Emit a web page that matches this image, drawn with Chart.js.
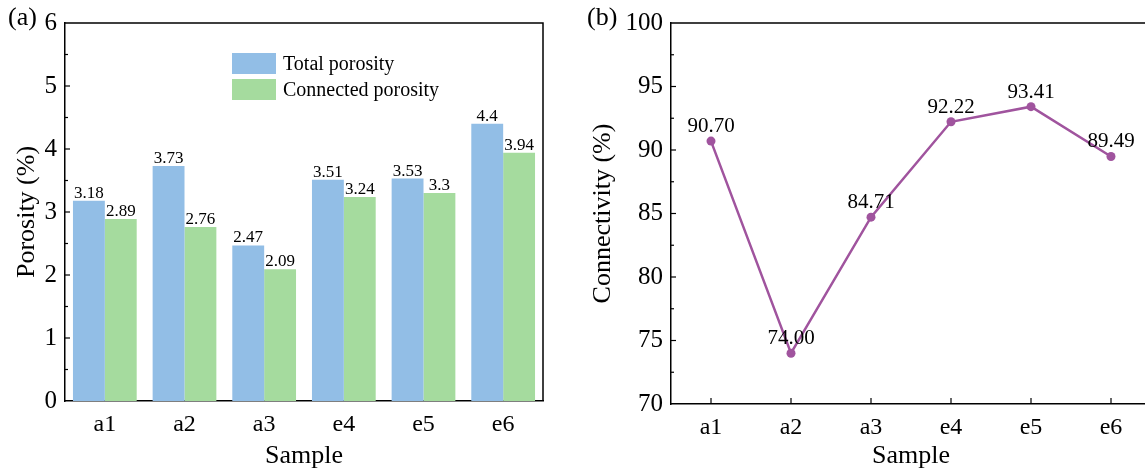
<!DOCTYPE html>
<html><head><meta charset="utf-8">
<script src="https://cdn.jsdelivr.net/npm/chart.js@4.4.1/dist/chart.umd.min.js"></script>
<style>
html,body{margin:0;padding:0;background:#fff;overflow:hidden;width:1145px;height:474px;position:relative;}
#ca{position:absolute;left:0;top:0;}
#cb{position:absolute;left:580px;top:0;}
</style></head><body>
<canvas id="ca" width="560" height="474"></canvas>
<canvas id="cb" width="600" height="474"></canvas>
<script>
const samples = ['a1','a2','a3','e4','e5','e6'];
const totalPorosity = [3.18, 3.73, 2.47, 3.51, 3.53, 4.4];
const connectedPorosity = [2.89, 2.76, 2.09, 3.24, 3.3, 3.94];
const connectivity = [90.70, 74.00, 84.71, 92.22, 93.41, 89.49];
const porosityTicks = [0, 1, 2, 3, 4, 5, 6];
const connectivityTicks = [70, 75, 80, 85, 90, 95, 100];
const seriesNames = ['Total porosity', 'Connected porosity'];

const FONT = "'Liberation Serif', 'Times New Roman', serif";
const BLUE = '#92BEE6';
const GREEN = '#A5DB9E';
const PURPLE = '#A0549E';

function drawFrame(chart) {
  const {ctx, chartArea: a} = chart;
  ctx.save();
  ctx.strokeStyle = '#000';
  ctx.lineWidth = 1.5;
  ctx.beginPath();
  ctx.moveTo(a.left, a.top);
  ctx.lineTo(a.right, a.top);
  ctx.lineTo(a.right, a.bottom);
  ctx.stroke();
  ctx.restore();
}
function innerYTicks(chart, ticks, majLen, minLen) {
  const {ctx, chartArea: a} = chart;
  const y = chart.scales.y;
  ctx.save();
  ctx.strokeStyle = '#000';
  ctx.lineWidth = 1.2;
  for (let i = 0; i < ticks.length; i++) {
    const v = ticks[i];
    if (i > 0 && i < ticks.length - 1) {
      const py = y.getPixelForValue(v);
      ctx.beginPath(); ctx.moveTo(a.left, py); ctx.lineTo(a.left + majLen, py); ctx.stroke();
    }
    if (i < ticks.length - 1) {
      const mv = (ticks[i] + ticks[i + 1]) / 2;
      const pm = y.getPixelForValue(mv);
      ctx.beginPath(); ctx.moveTo(a.left, pm); ctx.lineTo(a.left + minLen, pm); ctx.stroke();
    }
  }
  ctx.restore();
}

const pluginA = {
  id: 'extrasA',
  afterDraw(chart) {
    const {ctx} = chart;
    drawFrame(chart);
    innerYTicks(chart, porosityTicks, 5, 3);
    ctx.save();
    ctx.fillStyle = '#000';
    ctx.font = '17px ' + FONT;
    ctx.textAlign = 'center';
    ctx.textBaseline = 'alphabetic';
    chart.data.datasets.forEach((ds, di) => {
      chart.getDatasetMeta(di).data.forEach((bar, i) => {
        ctx.fillText(String(ds.data[i]), bar.x, bar.y - 3);
      });
    });
    const lx = 232, ly = [53, 79], bw = 44, bh = 21;
    [BLUE, GREEN].forEach((c, i) => {
      ctx.fillStyle = c;
      ctx.fillRect(lx, ly[i], bw, bh);
      ctx.fillStyle = '#000';
      ctx.font = '20px ' + FONT;
      ctx.textAlign = 'left';
      ctx.textBaseline = 'middle';
      ctx.fillText(seriesNames[i], lx + bw + 7, ly[i] + bh / 2 + 1);
    });
    ctx.font = '26px ' + FONT;
    ctx.textAlign = 'left';
    ctx.textBaseline = 'alphabetic';
    ctx.fillText('(a)', 8, 25);
    ctx.restore();
  }
};

const pluginB = {
  id: 'extrasB',
  afterDraw(chart) {
    const {ctx, chartArea: a} = chart;
    drawFrame(chart);
    innerYTicks(chart, connectivityTicks, 5, 3);
    const x = chart.scales.x;
    ctx.save();
    ctx.strokeStyle = '#000';
    ctx.lineWidth = 1.2;
    samples.forEach((s, i) => {
      const px = x.getPixelForValue(i);
      ctx.beginPath(); ctx.moveTo(px, a.bottom); ctx.lineTo(px, a.bottom - 6); ctx.stroke();
    });
    ctx.fillStyle = '#000';
    ctx.font = '21px ' + FONT;
    ctx.textAlign = 'center';
    ctx.textBaseline = 'alphabetic';
    chart.getDatasetMeta(0).data.forEach((pt, i) => {
      ctx.fillText(connectivity[i].toFixed(2), pt.x, pt.y - 9);
    });
    ctx.font = '26px ' + FONT;
    ctx.textAlign = 'left';
    ctx.fillText('(b)', 7, 25);
    ctx.restore();
  }
};

Chart.defaults.font.family = FONT;
Chart.defaults.color = '#000';

new Chart(document.getElementById('ca'), {
  type: 'bar',
  data: {
    labels: samples,
    datasets: [
      {label: seriesNames[0], data: totalPorosity, backgroundColor: BLUE, borderWidth: 0},
      {label: seriesNames[1], data: connectedPorosity, backgroundColor: GREEN, borderWidth: 0}
    ]
  },
  options: {
    responsive: false, animation: false, devicePixelRatio: 1,
    layout: {padding: {left: 0, right: 17, top: 16, bottom: 0}},
    categoryPercentage: 0.8, barPercentage: 1.0,
    plugins: {legend: {display: false}, tooltip: {enabled: false}},
    scales: {
      x: {
        grid: {display: false, drawTicks: false},
        border: {display: true, color: '#000', width: 1.5},
        ticks: {font: {size: 24}, padding: 9, color: '#000'},
        title: {display: true, text: 'Sample', font: {size: 26}, padding: {top: 0, bottom: 2}, color: '#000'},
        afterFit(s) { s.height = 73; }
      },
      y: {
        min: 0, max: 6,
        afterBuildTicks(s) { s.ticks = porosityTicks.map(v => ({value: v})); },
        grid: {display: false, drawTicks: false},
        border: {display: true, color: '#000', width: 1.5},
        ticks: {font: {size: 25}, padding: 8, color: '#000'},
        title: {display: true, text: 'Porosity (%)', font: {size: 26}, padding: {top: 12, bottom: 0}, color: '#000'},
        afterFit(s) { s.width = 65; }
      }
    }
  },
  plugins: [pluginA]
});

new Chart(document.getElementById('cb'), {
  type: 'line',
  data: {
    labels: samples,
    datasets: [{
      label: 'Connectivity', data: connectivity,
      borderColor: PURPLE, borderWidth: 2.5,
      pointRadius: 4.5, pointBackgroundColor: PURPLE, pointBorderWidth: 0,
      tension: 0
    }]
  },
  options: {
    responsive: false, animation: false, devicePixelRatio: 1,
    layout: {padding: {left: 0, right: 29, top: 16, bottom: 0}},
    plugins: {legend: {display: false}, tooltip: {enabled: false}},
    scales: {
      x: {
        offset: true,
        grid: {display: false, drawTicks: false, offset: true},
        border: {display: true, color: '#000', width: 1.5},
        ticks: {font: {size: 24}, padding: 9, color: '#000'},
        title: {display: true, text: 'Sample', font: {size: 26}, padding: {top: 0, bottom: 2}, color: '#000'},
        afterFit(s) { s.height = 70; }
      },
      y: {
        min: 70, max: 100,
        afterBuildTicks(s) { s.ticks = connectivityTicks.map(v => ({value: v})); },
        grid: {display: false, drawTicks: false},
        border: {display: true, color: '#000', width: 1.5},
        ticks: {font: {size: 25}, padding: 8, color: '#000'},
        title: {display: true, text: 'Connectivity (%)', font: {size: 26}, padding: {top: 8, bottom: 0}, color: '#000'},
        afterFit(s) { s.width = 91; }
      }
    }
  },
  plugins: [pluginB]
});
</script>
</body></html>
